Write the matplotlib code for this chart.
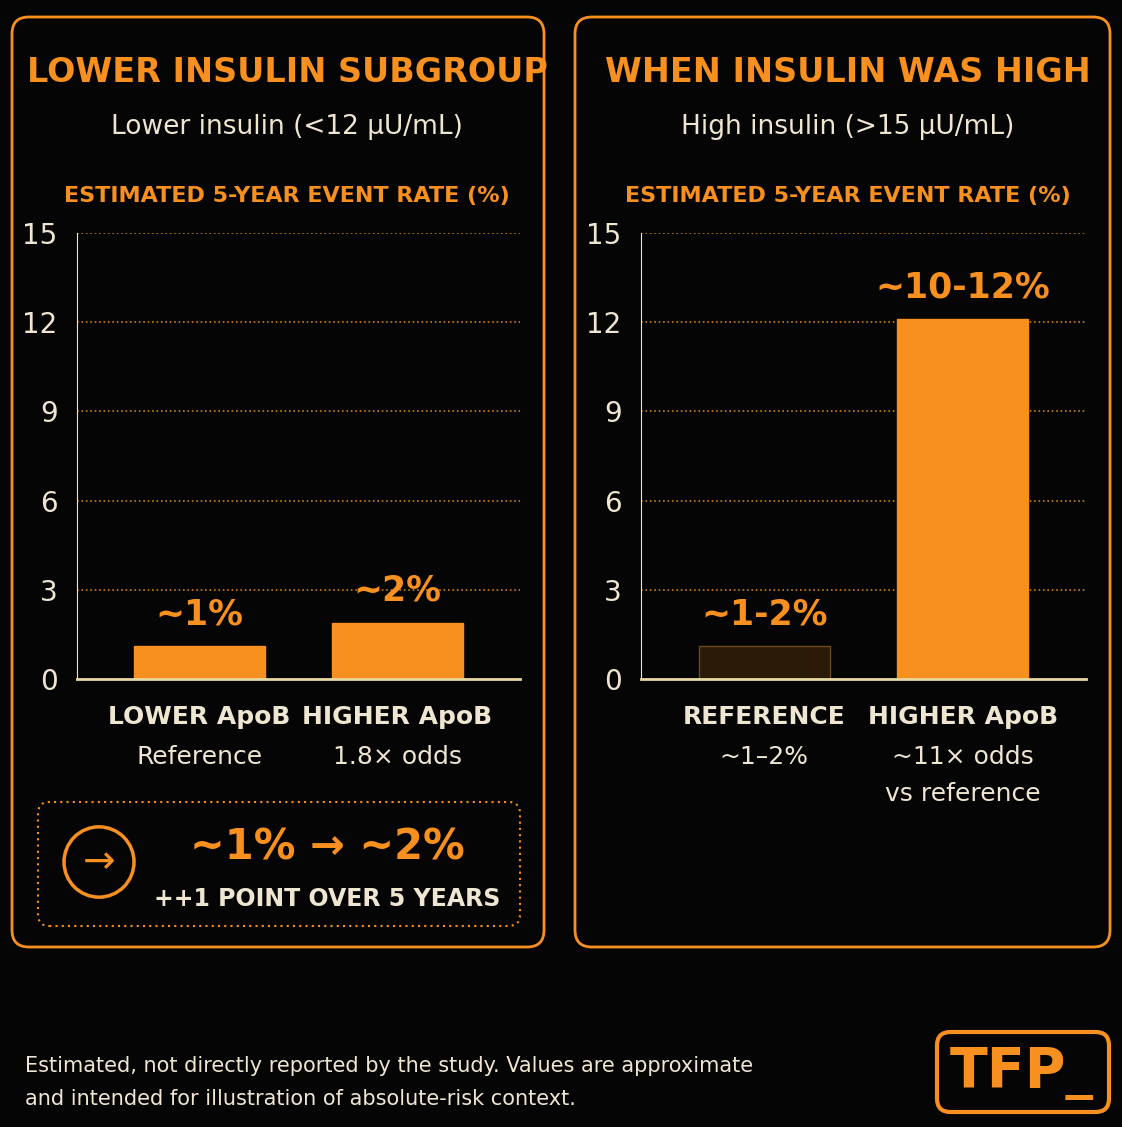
import matplotlib
matplotlib.use("Agg")
import matplotlib.pyplot as plt
from matplotlib.patches import FancyBboxPatch, Circle

W, H = 1122, 1127
ORANGE = "#f7901e"
CREAM = "#efe6d2"
BG = "#050505"

ticks = [0, 3, 6, 9, 12, 15]
left_cats = ["LOWER ApoB", "HIGHER ApoB"]
left_subs = ["Reference", "1.8\u00d7 odds"]
left_vals = [1.1, 1.9]
left_labels = ["~1%", "~2%"]
right_cats = ["REFERENCE", "HIGHER ApoB"]
right_subs = ["~1\u20132%", "~11\u00d7 odds\nvs reference"]
right_vals = [1.1, 12.1]
right_labels = ["~1-2%", "~10-12%"]

fig = plt.figure(figsize=(W / 100, H / 100), dpi=100, facecolor=BG)

def fx(x): return x / W
def fy(y): return 1 - y / H

def T(x, y, s, size, color=CREAM, bold=False, ha="center", **kw):
    fig.text(fx(x), fy(y), s, fontsize=size, color=color, ha=ha, va="center",
             fontweight="bold" if bold else "normal", **kw)

# panel boxes
for x0, x1 in [(12, 544), (575, 1110)]:
    fig.patches.append(FancyBboxPatch((fx(x0), fy(947)), fx(x1 - x0), (947 - 17) / H,
                       boxstyle="round,pad=0,rounding_size=0.015", transform=fig.transFigure,
                       fill=False, edgecolor=ORANGE, linewidth=2))

def panel(ax_x0, ax_x1, cats, subs, vals, labels, colors, edges, cx, title, sub):
    ax = fig.add_axes([fx(ax_x0), fy(679), fx(ax_x1 - ax_x0), (679 - 233) / H])
    ax.set_facecolor(BG)
    ax.set_ylim(0, 15)
    ax.set_xlim(-0.62, 1.62)
    ax.set_yticks(ticks)
    ax.set_yticklabels([str(t) for t in ticks], fontsize=20, color=CREAM)
    ax.tick_params(axis="y", length=0, pad=14)
    ax.set_xticks([])
    for t in ticks[1:]:
        ax.axhline(t, color="#c9801e", linestyle=":", linewidth=1.2, zorder=0)
    for s in ["top", "right"]:
        ax.spines[s].set_visible(False)
    ax.spines["left"].set_color(CREAM)
    ax.spines["bottom"].set_color("#e8d9a0")
    ax.spines["bottom"].set_linewidth(2)
    ax.bar([0, 1], vals, width=0.66, color=colors, edgecolor=edges, linewidth=1)
    for i, (v, l) in enumerate(zip(vals, labels)):
        ax.text(i, v + 0.5, l, ha="center", va="bottom", color=ORANGE, fontsize=25,
                fontweight="bold")
    T(cx, 72, title, 24, ORANGE, True)
    T(cx, 127, sub, 19)
    T(cx, 196, "ESTIMATED 5-YEAR EVENT RATE (%)", 16, ORANGE, True)
    for i, (c, s) in enumerate(zip(cats, subs)):
        xp = ax_x0 + (i + 0.62) / 2.24 * (ax_x1 - ax_x0)
        T(xp, 717, c, 18, CREAM, True)
        fig.text(fx(xp), fy(745), s, fontsize=18, color=CREAM, ha="center", va="top",
                 linespacing=1.7)

panel(77, 520, left_cats, left_subs, left_vals, left_labels, [ORANGE, ORANGE],
      [ORANGE, ORANGE], 287, "LOWER INSULIN SUBGROUP", "Lower insulin (<12 \u00b5U/mL)")
panel(641, 1086, right_cats, right_subs, right_vals, right_labels, ["#2b1a08", ORANGE],
      ["#6a4a20", ORANGE], 848, "WHEN INSULIN WAS HIGH", "High insulin (>15 \u00b5U/mL)")

# summary box
fig.patches.append(FancyBboxPatch((fx(38), fy(926)), fx(482), (926 - 802) / H,
                   boxstyle="round,pad=0,rounding_size=0.01", transform=fig.transFigure,
                   fill=False, edgecolor=ORANGE, linewidth=1.5, linestyle=(0, (1, 2))))
fig.patches.append(Circle((fx(99), fy(862)), 35 / W, transform=fig.transFigure,
                          fill=False, edgecolor=ORANGE, linewidth=2.5))
T(99, 862, "\u2192", 28, ORANGE)
T(327, 848, "~1% \u2192 ~2%", 30, ORANGE, True)
T(327, 899, "++1 POINT OVER 5 YEARS", 17, CREAM, True)

# footnote
fig.text(fx(25), fy(1066), "Estimated, not directly reported by the study. Values are approximate",
         fontsize=15, color=CREAM, ha="left", va="center")
fig.text(fx(25), fy(1099), "and intended for illustration of absolute-risk context.",
         fontsize=15, color=CREAM, ha="left", va="center")

# logo
fig.patches.append(FancyBboxPatch((fx(937), fy(1112)), fx(172), (1112 - 1032) / H,
                   boxstyle="round,pad=0,rounding_size=0.012", transform=fig.transFigure,
                   fill=False, edgecolor=ORANGE, linewidth=3))
T(1022, 1073, "TFP_", 40, ORANGE, True)

fig.savefig("out.png", dpi=100, facecolor=BG)
